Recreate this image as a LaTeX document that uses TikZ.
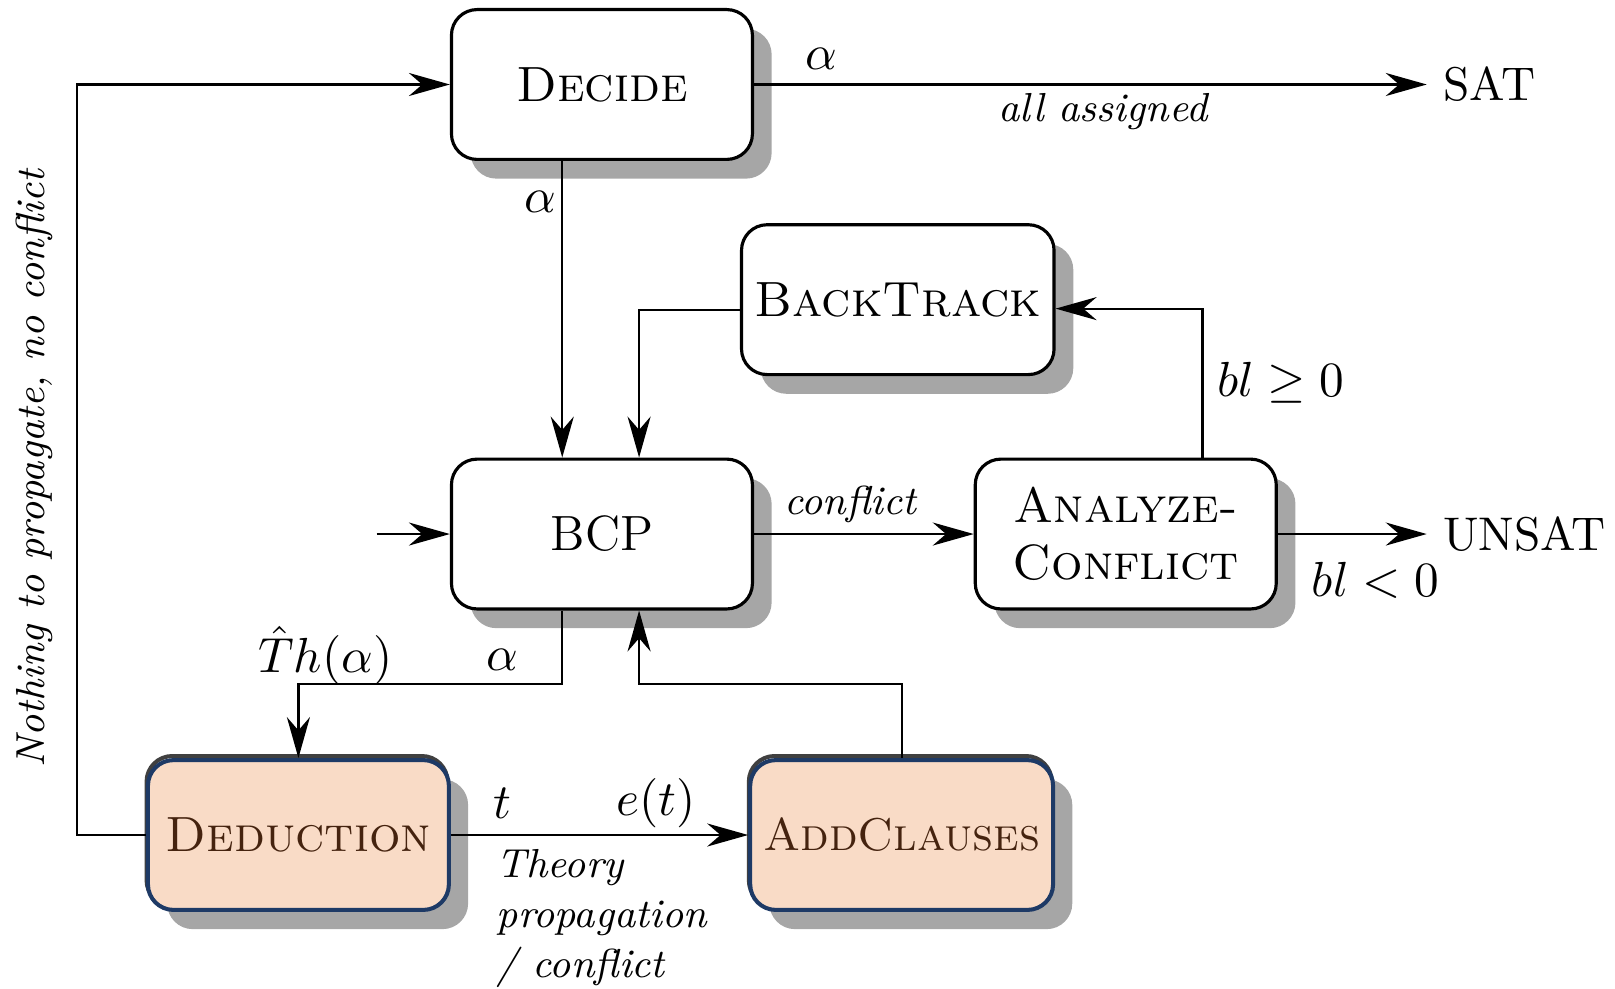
\documentclass[tikz,border=0pt]{standalone}
\usetikzlibrary{arrows.meta,shadows}
\usepackage{amsmath}

\definecolor{peach}{HTML}{F9DBC6}
\definecolor{navy}{HTML}{1E3A66}
\definecolor{brownText}{HTML}{45230F}

\begin{document}
\begin{tikzpicture}[line width=0.5pt,>={Stealth[length=3.2mm,width=1.8mm]},
  font=\fontsize{11}{13.5}\selectfont,
  box/.style={draw,rounded corners=0.2cm,fill=white,line width=0.7pt,
    minimum width=2.35cm,minimum height=1.17cm,inner xsep=0.1cm,align=center,
    drop shadow={shadow xshift=0.15cm,shadow yshift=-0.15cm,fill=black!35,opacity=1}},
  thbox/.style={box,fill=peach,draw=navy,line width=0.9pt,text=brownText,
    general shadow={draw=black!75,fill=none,shadow xshift=-0.3pt,shadow yshift=0.9pt}},
  lbl/.style={inner sep=0pt},
  sml/.style={font=\fontsize{9}{11.2}\selectfont\itshape},
  outcome/.style={anchor=west,inner sep=0.12cm,font=\fontsize{10.5}{12}\selectfont}]
\useasboundingbox (0,0) rectangle (12.61,7.72);
% ================ 方框 ================
\node[box] (decide) at (4.70,7.06) {\textsc{Decide}};
\node[box] (backtrack) at (7.01,5.38) {\textsc{BackTrack}};
\node[box] (bcp) at (4.70,3.55) {BCP};
\node[box,font=\fontsize{11}{12.6}\selectfont] (analyze) at (8.79,3.55) {\textsc{Analyze-}\\\textsc{Conflict}};
\node[thbox] (deduction) at (2.33,1.20) {\textsc{Deduction}};
\node[thbox,font=\fontsize{10.2}{12}\selectfont] (addclauses) at (7.04,1.20) {\textsc{AddClauses}};
% 结果
\node[outcome] (sat) at (11.14,7.06) {SAT};
\node[outcome] (unsat) at (11.14,3.55) {UNSAT};
% 辅助点
\coordinate (in) at (2.94,3.55);
\coordinate (left) at (0.60,4.00);
\coordinate (toded) at (3.50,2.38);
\coordinate (toadd) at (6.00,2.38);
% ================ 连线 ================
\draw[->] (decide.east) -- (sat.west);
\draw[->] (deduction.west) -| (left) |- (decide.west);
\draw[->] ([xshift=-0.31cm]decide.south) -- ([xshift=-0.31cm]bcp.north);
\draw[->] ([yshift=-0.08cm]backtrack.west) -| ([xshift=0.29cm]bcp.north);
\draw[->] (in) -- (bcp.west);
\draw[->] (bcp) -- (analyze);
\draw[->] ([xshift=0.60cm]analyze.north) |- ([yshift=-0.07cm]backtrack.east);
\draw[->] (analyze.east) -- (unsat.west);
\draw[->] ([xshift=-0.31cm]bcp.south) |- (toded) -| (deduction.north);
\draw[->] (addclauses.north) |- (toadd) -| ([xshift=0.29cm]bcp.south);
\draw[->] (deduction) -- (addclauses);
% ================ 标注 ================
\node[lbl] (alphasat) at (6.41,7.26) {$\alpha$};
\node[lbl,sml] (assigned) at (8.61,6.85) {all assigned};
\node[lbl] (alphadecide) at (4.22,6.14) {$\alpha$};
\node[lbl,sml] (conflict) at (6.64,3.78) {conflict};
\node[lbl] (blge) at (10.00,4.73) {$bl \geq 0$};
\node[lbl] (bllt) at (10.74,3.19) {$bl < 0$};
\node[lbl] (theta) at (2.54,2.60) {$\hat{T}h(\alpha)$};
\node[lbl] (alphabcp) at (3.92,2.57) {$\alpha$};
\node[lbl] (tlbl) at (3.92,1.45) {$t$};
\node[lbl] (etlbl) at (5.12,1.45) {$e(t)$};
\node[lbl,sml,anchor=north west,align=left] (theory) at (3.87,1.10) {Theory\\propagation\\/ conflict};
\node[lbl,sml,rotate=90] (nothing) at (0.27,4.06) {Nothing to propagate, no conflict};
\end{tikzpicture}
\end{document}
